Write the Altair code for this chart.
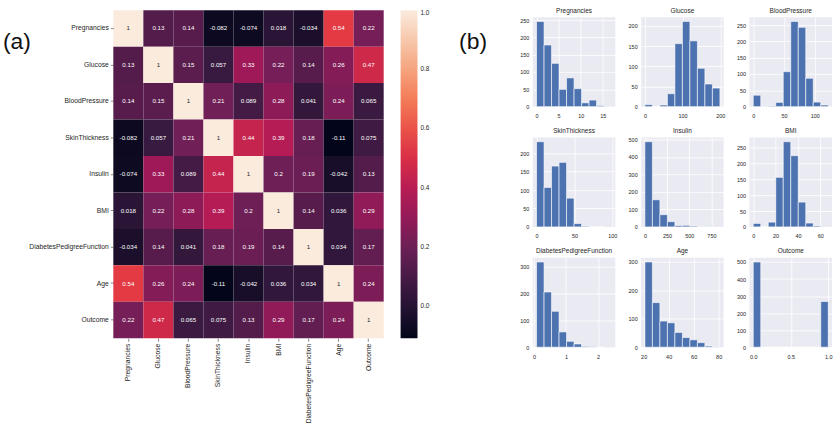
import altair as alt
import pandas as pd
import numpy as np

# ---------------- data: correlation matrix (panel a) ----------------
features = ["Pregnancies", "Glucose", "BloodPressure", "SkinThickness", "Insulin",
            "BMI", "DiabetesPedigreeFunction", "Age", "Outcome"]

corr_pregnancies = [1, 0.13, 0.14, -0.082, -0.074, 0.018, -0.034, 0.54, 0.22]
corr_glucose = [0.13, 1, 0.15, 0.057, 0.33, 0.22, 0.14, 0.26, 0.47]
corr_bloodpressure = [0.14, 0.15, 1, 0.21, 0.089, 0.28, 0.041, 0.24, 0.065]
corr_skinthickness = [-0.082, 0.057, 0.21, 1, 0.44, 0.39, 0.18, -0.11, 0.075]
corr_insulin = [-0.074, 0.33, 0.089, 0.44, 1, 0.2, 0.19, -0.042, 0.13]
corr_bmi = [0.018, 0.22, 0.28, 0.39, 0.2, 1, 0.14, 0.036, 0.29]
corr_dpf = [-0.034, 0.14, 0.041, 0.18, 0.19, 0.14, 1, 0.034, 0.17]
corr_age = [0.54, 0.26, 0.24, -0.11, -0.042, 0.036, 0.034, 1, 0.24]
corr_outcome = [0.22, 0.47, 0.065, 0.075, 0.13, 0.29, 0.17, 0.24, 1]

corr_rows = [corr_pregnancies, corr_glucose, corr_bloodpressure, corr_skinthickness,
             corr_insulin, corr_bmi, corr_dpf, corr_age, corr_outcome]

colorbar_ticks = [0.0, 0.2, 0.4, 0.6, 0.8, 1.0]

# ---------------- data: histograms (panel b) ----------------
hist_names = ["Pregnancies", "Glucose", "BloodPressure", "SkinThickness", "Insulin",
              "BMI", "DiabetesPedigreeFunction", "Age", "Outcome"]
hist_min = [0, 0, 0, 0, 0, 0, 0.078, 21, 0]
hist_max = [17, 199, 122, 99, 846, 67.1, 2.42, 81, 1]

counts_pregnancies = [246, 178, 125, 50, 83, 52, 11, 19, 3, 1]
counts_glucose = [5, 0, 4, 32, 156, 211, 163, 95, 56, 46]
counts_bloodpressure = [35, 1, 2, 13, 107, 261, 243, 87, 14, 5]
counts_skinthickness = [231, 107, 165, 175, 78, 9, 2, 0, 0, 1]
counts_insulin = [487, 155, 70, 30, 8, 9, 5, 1, 2, 1]
counts_bmi = [11, 0, 15, 156, 268, 224, 78, 12, 3, 1]
counts_dpf = [318, 206, 134, 57, 22, 12, 3, 2, 0, 1]
counts_age = [300, 157, 92, 86, 52, 34, 26, 16, 4, 1]
counts_outcome = [500, 0, 0, 0, 0, 0, 0, 0, 0, 268]

hist_counts = [counts_pregnancies, counts_glucose, counts_bloodpressure, counts_skinthickness,
               counts_insulin, counts_bmi, counts_dpf, counts_age, counts_outcome]

xticks = [[0, 5, 10, 15], [0, 100, 200], [0, 50, 100], [0, 50, 100], [0, 250, 500, 750],
          [0, 20, 40, 60], [0, 1, 2], [20, 40, 60, 80], [0.0, 0.5, 1.0]]
yticks = [[0, 50, 100, 150, 200, 250], [0, 50, 100, 150, 200], [0, 50, 100, 150, 200, 250],
          [0, 50, 100, 150, 200], [0, 100, 200, 300, 400, 500], [0, 50, 100, 150, 200, 250],
          [0, 100, 200, 300], [0, 100, 200, 300], [0, 100, 200, 300, 400, 500]]
xformats = ["d", "d", "d", "d", "d", "d", "d", "d", ".1f"]

# ---------------- style ----------------
FONT = "Liberation Sans"
DARK = "#262626"
rocket_pos = [0, 1 / 7, 2 / 7, 3 / 7, 4 / 7, 5 / 7, 6 / 7, 1]
rocket_col = ["#03051a", "#35193e", "#701f57", "#ad1759", "#e13342", "#f37651", "#f6b48f", "#faebdd"]
vmin, vmax = -0.11, 1.0
SHIFT = 7          # heatmap sits this many px above the histogram grid's first row
HM_W, HM_H = 272, 330

# ---------------- heatmap ----------------
recs = []
for r, rowvals in zip(features, corr_rows):
    for c, v in zip(features, rowvals):
        recs.append({"row": r, "col": c, "value": v, "label": f"{v:.2g}"})
corr_df = pd.DataFrame(recs)

yscale = alt.Scale(paddingInner=0, paddingOuter=0, range=[-SHIFT, HM_H - SHIFT])
xenc = alt.X("col:N", sort=features, scale=alt.Scale(paddingInner=0, paddingOuter=0),
             axis=alt.Axis(title=None, labelAngle=270, labelFontSize=6.8, labelColor=DARK,
                           tickSize=3, tickColor="#555555", tickWidth=0.7, domain=False,
                           labelPadding=2))
yenc = alt.Y("row:N", sort=features, scale=yscale,
             axis=alt.Axis(title=None, labelFontSize=6.8, labelColor=DARK,
                           tickSize=3, tickColor="#555555", tickWidth=0.7, domain=False,
                           labelPadding=2))

heat = alt.Chart(corr_df).mark_rect().encode(
    x=xenc, y=yenc,
    color=alt.Color("value:Q",
                    scale=alt.Scale(domain=[vmin + p * (vmax - vmin) for p in rocket_pos],
                                    range=rocket_col, interpolate="rgb"),
                    legend=alt.Legend(title=None, orient="none", legendX=HM_W + 17,
                                      legendY=-SHIFT, direction="vertical",
                                      gradientLength=HM_H, gradientThickness=17,
                                      gradientStrokeWidth=0, values=colorbar_ticks,
                                      format=".1f", labelFontSize=6.5, labelColor=DARK,
                                      labelOffset=3))
)
annot = alt.Chart(corr_df).mark_text(fontSize=6.2).encode(
    x=alt.X("col:N", sort=features), y=alt.Y("row:N", sort=features, scale=yscale),
    text="label:N",
    color=alt.condition("datum.value > 0.9", alt.value(DARK), alt.value("white"))
)
lab_a = alt.Chart(pd.DataFrame({"t": ["(a)"]})).mark_text(
    fontSize=23, align="left", baseline="middle", color="#111111").encode(
    x=alt.value(-111), y=alt.value(25), text="t:N")
lab_b = alt.Chart(pd.DataFrame({"t": ["(b)"]})).mark_text(
    fontSize=23, align="right", baseline="middle", color="#111111").encode(
    x=alt.value(376), y=alt.value(25), text="t:N")

left = alt.layer(heat, annot, lab_a, lab_b).properties(width=HM_W, height=HM_H - SHIFT)

# ---------------- histograms ----------------
panels = []
for name, lo, hi, cnt, xt, yt, xf in zip(hist_names, hist_min, hist_max, hist_counts,
                                          xticks, yticks, xformats):
    edges = np.linspace(lo, hi, len(cnt) + 1)
    hdf = pd.DataFrame({"x0": edges[:-1], "x1": edges[1:], "n": cnt})
    pad = 0.05 * (hi - lo)
    ch = alt.Chart(hdf, title=alt.Title(name, fontSize=6.5, fontWeight="normal", color=DARK,
                                        offset=3)).mark_rect(
        color="#4C72B0", stroke="white", strokeWidth=0.6).encode(
        x=alt.X("x0:Q", scale=alt.Scale(domain=[lo - pad, hi + pad], nice=False, zero=False),
                axis=alt.Axis(title=None, values=xt, format=xf, labelFontSize=5.5,
                              labelColor=DARK, ticks=False, tickSize=0, domain=False,
                              labelPadding=7, grid=True, gridColor="white",
                              gridWidth=0.8, gridOpacity=1)),
        x2="x1:Q",
        y=alt.Y("n:Q", scale=alt.Scale(domain=[0, max(cnt) * 1.05], nice=False),
                axis=alt.Axis(title=None, values=yt, format="d", labelFontSize=5.5,
                              labelColor=DARK, ticks=False, tickSize=0, domain=False,
                              labelPadding=4, grid=True, gridColor="white",
                              gridWidth=0.8, gridOpacity=1)),
        y2=alt.datum(0)
    ).properties(width=83, height=90,
                 view=alt.ViewBackground(fill="#EAEAF2", strokeWidth=0))
    panels.append(ch)

grid = alt.concat(*panels, columns=3, spacing=alt.RowColnumber(row=8, column=10))

chart = alt.hconcat(left, grid, spacing=32).resolve_scale(
    color="independent").resolve_legend(color="independent").properties(
    padding={"left": 3, "top": 6, "right": 0, "bottom": 0},
    background="white"
).configure(font=FONT).configure_view(strokeWidth=0)

chart.save("out.html", embed_options={"renderer": "svg", "actions": False})
